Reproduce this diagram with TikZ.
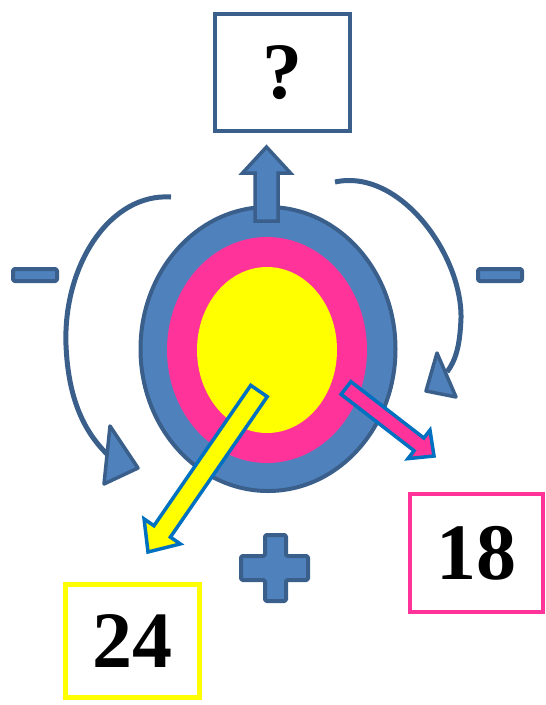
\documentclass[tikz,border=0pt]{standalone}
\usepackage{fontspec}
\setmainfont{Liberation Serif}
\usetikzlibrary{calc}
\definecolor{dkblue}{HTML}{3A5F8B}
\definecolor{fillblue}{HTML}{4F81BD}
\definecolor{mypink}{HTML}{FF3399}
\definecolor{myyellow}{HTML}{FFFF00}
\definecolor{arrblue}{HTML}{0070C0}
\tikzset{
  numbox/.style={draw, line width=4.5pt, fill=white, minimum width=#1, inner sep=0pt,
     font=\fontsize{80}{80}\selectfont\bfseries},
  shapeblue/.style={draw=dkblue, fill=fillblue, line width=4pt, line join=round},
  curvearrow/.style={draw=dkblue, line width=5pt},
}
\newcommand{\fatarrow}[6]{% A B halfshaft halfhead headlen style
  \path[#6] ($(#1)!#3!90:(#2)$) -- ($($(#2)!#5!(#1)$)!#3!90:(#2)$)
    -- ($($(#2)!#5!(#1)$)!#4!90:(#2)$) -- (#2)
    -- ($($(#2)!#5!(#1)$)!#4!-90:(#2)$) -- ($($(#2)!#5!(#1)$)!#3!-90:(#2)$)
    -- ($(#1)!#3!-90:(#2)$) -- cycle;}
\begin{document}
\begin{tikzpicture}[x=1pt,y=-1pt]
\useasboundingbox (0,0) rectangle (546,705);
% target ellipses
\path[shapeblue] (268,349) ellipse [x radius=127.5, y radius=142];
\path[fill=mypink] (267,350) ellipse [x radius=100, y radius=113];
\path[fill=myyellow] (267,350) ellipse [x radius=70, y radius=83];
% top box
\node[numbox=135pt, draw=dkblue, line width=4pt, minimum height=117pt] (q) at (282.5,72.5) {?};
% up arrow
\coordinate (upA) at (266.5,221);
\coordinate (upB) at (266.5,147);
\fatarrow{upA}{upB}{11.5pt}{24pt}{26pt}{shapeblue, line width=3.5pt, line join=miter}
% yellow arrow
\coordinate (yA) at (259,391);
\coordinate (yB) at (148,552);
\fatarrow{yA}{yB}{10pt}{22pt}{25pt}{draw=arrblue, fill=myyellow, line width=3.5pt, line join=miter}
% pink arrow
\coordinate (pA) at (346,388);
\coordinate (pB) at (434,456);
\fatarrow{pA}{pB}{8pt}{18pt}{19pt}{draw=arrblue, fill=mypink, line width=3.5pt, line join=miter}
% left curved arrow
\coordinate (lS) at (171,197);
\coordinate (lE) at (108,455);
\path[curvearrow] (lS) .. controls (110,193) and (63,265) .. (66,345)
   .. controls (68,395) and (82,430) .. (lE);
\path[shapeblue, line width=3.5pt, line join=round] (110,426) -- (138,468) -- (104,484) -- cycle;
% right curved arrow
\coordinate (rS) at (335,182);
\coordinate (rE) at (447,372);
\path[curvearrow] (rS) .. controls (400,168) and (462,255) .. (461,318)
   .. controls (460,345) and (456,360) .. (rE);
\path[shapeblue, line width=3.5pt, line join=round] (437,353) -- (456,397) -- (426,391) -- cycle;
% minus signs
\path[shapeblue, rounded corners=2pt] (13,269) rectangle (57,281);
\path[shapeblue, rounded corners=2pt] (478,269) rectangle (522,281);
% plus sign
\path[shapeblue, rounded corners=1.5pt] (265,535) -- (286,535) -- (286,556) -- (308,556) -- (308,580)
  -- (286,580) -- (286,601) -- (265,601) -- (265,580) -- (241,580) -- (241,556) -- (265,556) -- cycle;
% number boxes
\node[numbox=133pt, draw=mypink, minimum height=118pt] (b18) at (476.5,553) {18};
\node[numbox=134pt, draw=myyellow, minimum height=113pt] (b24) at (132.5,641) {24};
\end{tikzpicture}
\end{document}
